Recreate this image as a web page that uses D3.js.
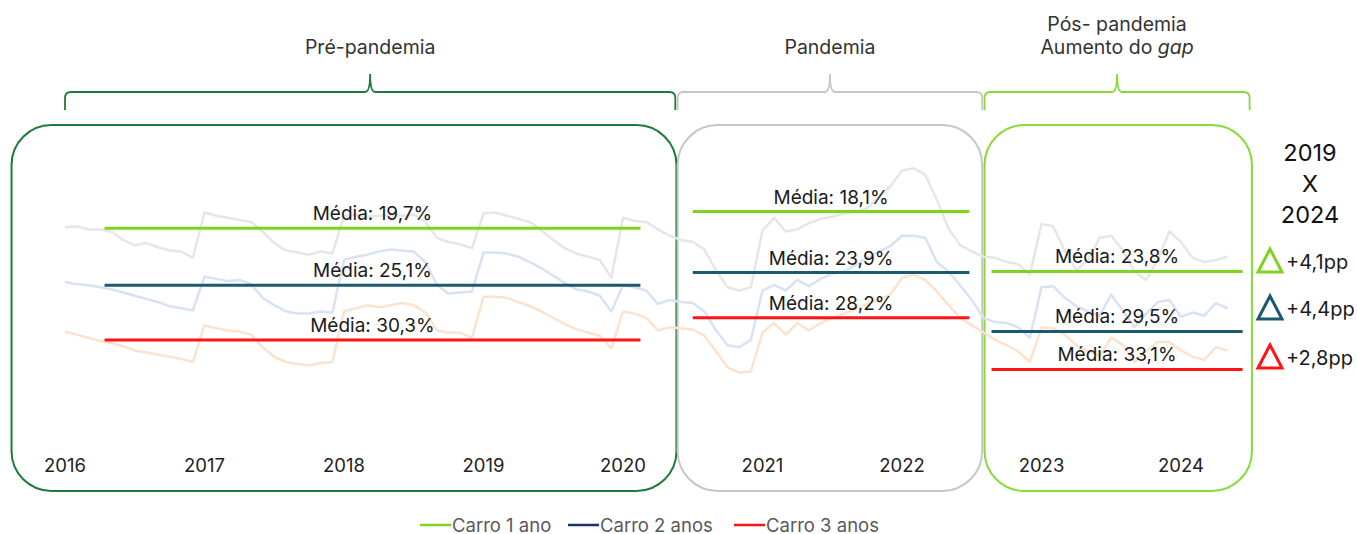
<!DOCTYPE html>
<html>
<head>
<meta charset="utf-8">
<script src="https://cdn.jsdelivr.net/npm/d3@7"></script>
<style>
  body { margin: 0; background: #fff; }
  text { font-family: Inter, "Noto Sans", sans-serif; }
</style>
</head>
<body>
<div id="chart"></div>
<script>
// dados mensais (jan/2016 a mai/2024) - % por idade do carro
const years = [2016, 2017, 2018, 2019, 2020, 2021, 2022, 2023, 2024]

const carro1 = [
  19.6,19.5,19.8,19.8,20.0,20.8,21.3,21.1,21.5,21.8,21.9,22.5,
  18.2,18.5,18.7,18.9,19.1,20.0,21.1,21.8,22.0,22.2,21.9,22.1,
  18.5,18.4,18.6,18.5,18.4,18.5,18.4,19.1,20.6,21.0,21.2,21.6,
  18.3,18.2,18.5,18.8,19.1,19.9,20.8,21.6,22.1,22.4,22.7,24.4,
  18.7,19.0,19.1,19.8,20.4,20.8,21.0,21.7,23.7,25.3,25.6,25.3,
  19.9,18.7,20.0,19.8,19.2,18.8,18.6,18.3,18.1,17.8,16.7,15.7,
  14.2,14.0,14.6,17.0,19.7,21.3,21.9,22.4,22.5,22.9,23.1,24.1,
  19.3,19.5,21.8,23.7,22.7,20.6,20.4,21.8,23.8,24.6,22.7,20.0,
  21.0,22.5,22.9,22.7,22.4
]
const carro2 = [
  24.8,25.0,25.1,25.3,25.5,25.8,26.1,26.4,26.7,27.1,27.3,27.5,
  24.3,24.5,24.7,24.6,25.0,26.3,27.0,27.6,27.8,27.8,27.6,27.7,
  22.7,22.4,22.2,21.9,21.7,21.8,21.9,22.9,25.1,25.9,25.8,25.7,
  22.0,22.0,22.1,22.4,22.9,23.5,24.2,24.9,25.5,25.7,26.1,27.6,
  25.1,25.3,25.6,26.9,26.5,26.7,26.8,27.6,29.4,30.8,31.0,30.3,
  25.6,25.1,25.6,24.6,25.2,24.5,24.0,23.8,23.2,22.5,21.9,21.4,
  20.4,20.4,20.6,22.9,23.8,25.1,26.5,28.2,28.6,28.7,29.1,30.1,
  25.3,25.2,26.3,27.1,27.6,28.0,26.0,27.5,29.1,27.8,26.7,26.5,
  28.1,27.7,28.0,26.8,27.3
]
const carro3 = [
  29.5,29.8,30.1,30.4,30.6,30.9,31.3,31.5,31.7,31.9,32.1,32.4,
  28.9,29.2,29.4,29.5,29.8,31.0,31.9,32.4,32.6,32.7,32.5,32.4,
  27.6,27.3,27.0,27.2,27.0,26.8,27.0,27.7,29.4,29.6,29.6,30.1,
  26.2,26.2,26.3,26.7,27.1,27.6,28.2,28.8,29.3,29.6,29.9,31.1,
  27.6,27.8,28.2,29.4,29.1,29.2,29.3,29.9,31.4,32.9,33.4,33.3,
  29.6,28.7,29.8,28.7,29.4,28.7,28.2,27.8,27.4,26.9,26.5,26.0,
  24.4,24.1,24.6,25.7,27.0,28.2,28.9,29.6,30.3,30.8,31.4,32.4,
  29.1,29.2,29.8,30.8,31.4,31.8,30.1,30.8,32.4,31.4,30.5,30.5,
  31.3,31.9,32.2,31.0,31.3
]

// médias por período
const media1 = [19.7, 18.1, 23.8]
const media2 = [25.1, 23.9, 29.5]
const media3 = [30.3, 28.2, 33.1]
// início e fim (em meses desde jan/2016) de cada média
const mediaStart = [3.4, 54.0, 79.7]
const mediaEnd = [49.5, 77.8, 101.3]

// períodos
const periodos = ["Pré-pandemia", "Pandemia", "Pós- pandemia"]
const periodoStart = [-4.6, 52.7, 79.1]
const periodoEnd = [52.6, 78.9, 102.1]
const chaveStart = [0, 52.7, 79.1]
const chaveEnd = [52.5, 78.9, 101.9]

const deltas = [4.1, 4.4, 2.8]
const series = ["Carro 1 ano", "Carro 2 anos", "Carro 3 anos"]

// boceto
const width = 1357
const height = 534
const boxTop = 125
const boxBottom = 491

const corFraca = ["#e6e6e6", "#d8e2f4", "#fde2cd"]
const corMedia = ["#7ed321", "#1b5a6e", "#ff1414"]
const corLegenda = ["#7ed321", "#1c2f6e", "#ff1414"]
const corPeriodo = ["#1e7a3c", "#c6c6c6", "#86dc36"]

const locale = d3.formatLocale({decimal: ",", thousands: ".", grouping: [3], currency: ["R$", ""]})
const fmt = locale.format(".1f")

const svg = d3.select("#chart")
  .append("svg")
  .attr("width", width)
  .attr("height", height)

const x = d3.scaleLinear().domain([0, 96]).range([65, 1181])
const y = d3.scaleLinear().domain([0, 40]).range([21, 442])

// caixas
const boxes = svg.append("g").attr("id", "boxes")
periodos.forEach((p, i) => {
  boxes.append("rect")
    .attr("x", x(periodoStart[i]))
    .attr("y", boxTop)
    .attr("width", x(periodoEnd[i]) - x(periodoStart[i]))
    .attr("height", boxBottom - boxTop)
    .attr("rx", 40)
    .attr("fill", "none")
    .attr("stroke", corPeriodo[i])
    .attr("stroke-width", 2)
})

// chaves
const chaves = svg.append("g").attr("id", "chaves")
periodos.forEach((p, i) => {
  const x0 = x(chaveStart[i]), x1 = x(chaveEnd[i]), m = (x0 + x1) / 2
  const yl = 92
  const path = `M${x0},110 L${x0},${yl + 6} Q${x0},${yl} ${x0 + 6},${yl}
    L${m - 5},${yl} Q${m},${yl} ${m},${yl - 18} Q${m},${yl} ${m + 5},${yl}
    L${x1 - 6},${yl} Q${x1},${yl} ${x1},${yl + 6} L${x1},110`
  chaves.append("path")
    .attr("d", path)
    .attr("fill", "none")
    .attr("stroke", corPeriodo[i])
    .attr("stroke-width", 1.8)
})

const titulos = svg.append("g").attr("id", "titulos")
  .attr("font-size", 19.5).attr("fill", "#333").attr("text-anchor", "middle")
titulos.append("text").attr("x", (x(chaveStart[0]) + x(chaveEnd[0])) / 2).attr("y", 54).text(periodos[0])
titulos.append("text").attr("x", (x(chaveStart[1]) + x(chaveEnd[1])) / 2).attr("y", 54).text(periodos[1])
const cx3 = (x(chaveStart[2]) + x(chaveEnd[2])) / 2
titulos.append("text").attr("x", cx3).attr("y", 31).text(periodos[2])
const t3 = titulos.append("text").attr("x", cx3).attr("y", 54)
t3.append("tspan").text("Aumento do ")
t3.append("tspan").attr("font-style", "italic").text("gap")

// linhas mensais (fracas)
const line = d3.line().x((d, i) => x(i)).y(d => y(d))
const linhas = svg.append("g").attr("id", "linhas")
;[carro1, carro2, carro3].forEach((s, k) => {
  linhas.append("path")
    .datum(s)
    .attr("d", line)
    .attr("fill", "none")
    .attr("stroke", corFraca[k])
    .attr("stroke-width", 2.5)
    .attr("stroke-linejoin", "round")
})

// médias
const medias = svg.append("g").attr("id", "medias")
;[media1, media2, media3].forEach((mv, k) => {
  mv.forEach((v, i) => {
    medias.append("line")
      .attr("x1", x(mediaStart[i]))
      .attr("x2", x(mediaEnd[i]))
      .attr("y1", y(v))
      .attr("y2", y(v))
      .attr("stroke", corMedia[k])
      .attr("stroke-width", 3)
    medias.append("text")
      .attr("x", (x(mediaStart[i]) + x(mediaEnd[i])) / 2)
      .attr("y", y(v) - 8)
      .attr("text-anchor", "middle")
      .attr("font-size", 19)
      .attr("fill", "#1a1a1a")
      .text(`Média: ${fmt(v)}%`)
  })
})

// anos
svg.append("g").attr("id", "anos")
  .selectAll("text").data(years).enter()
  .append("text")
  .attr("x", (d, i) => x(i * 12))
  .attr("y", 472)
  .attr("text-anchor", "middle")
  .attr("font-size", 18.5)
  .attr("fill", "#222")
  .text(d => d)

// comparação 2019 x 2024
const comp = svg.append("g").attr("id", "comp")
comp.selectAll("text.head").data(["2019", "X", "2024"]).enter()
  .append("text")
  .attr("class", "head")
  .attr("x", 1310)
  .attr("y", (d, i) => 161 + i * 31)
  .attr("text-anchor", "middle")
  .attr("font-size", 23.5)
  .attr("fill", "#111")
  .text(d => d)

const triY = [261, 308, 357]
deltas.forEach((d, i) => {
  const cy = triY[i]
  comp.append("path")
    .attr("d", `M1258,${cy + 11} L1270,${cy - 12} L1282,${cy + 11} Z`)
    .attr("fill", "none")
    .attr("stroke", corMedia[i])
    .attr("stroke-width", 3)
    .attr("stroke-linejoin", "miter")
  comp.append("text")
    .attr("x", 1286)
    .attr("y", cy + 8)
    .attr("font-size", 20)
    .attr("fill", "#1a1a1a")
    .text(`+${fmt(d)}pp`)
})

// legenda
const legX = [420, 568, 734]
const leg = svg.append("g").attr("id", "legenda")
series.forEach((s, i) => {
  leg.append("line")
    .attr("x1", legX[i]).attr("x2", legX[i] + 31)
    .attr("y1", 525).attr("y2", 525)
    .attr("stroke", corLegenda[i])
    .attr("stroke-width", 2.5)
  leg.append("text")
    .attr("x", legX[i] + 32)
    .attr("y", 531.5)
    .attr("font-size", 18.5)
    .attr("fill", "#595959")
    .text(s)
})
</script>
</body>
</html>
